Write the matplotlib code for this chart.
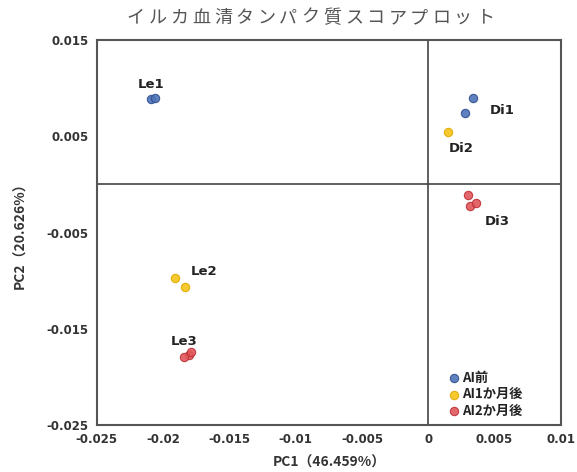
import matplotlib
matplotlib.use("Agg")
import matplotlib.pyplot as plt

plt.rcParams['font.family'] = ['Noto Sans CJK JP', 'DejaVu Sans']

# PCA scores per group
ai0_x = [-0.0209, -0.0206, 0.00336, 0.00276]
ai0_y = [0.0089, 0.0090, 0.0090, 0.00742]
ai1_x = [-0.01912, -0.01836, 0.00148]
ai1_y = [-0.00972, -0.01066, 0.00544]
ai2_x = [-0.01806, -0.0184, -0.0179, 0.00299, 0.00314, 0.00359]
ai2_y = [-0.01772, -0.0179, -0.0174, -0.0011, -0.00224, -0.00193]

group_names = ["AI前", "AI1か月後", "AI2か月後"]
group_colors = ["#4F73B8", "#F5C518", "#E0575B"]
edge_colors = ["#2F4F8F", "#E0A800", "#C03038"]

point_labels = ["Le1", "Di1", "Di2", "Di3", "Le2", "Le3"]
label_x = [-0.0209, 0.0056, 0.0025, 0.0052, -0.0169, -0.0184]
label_y = [0.0104, 0.0077, 0.0037, -0.0039, -0.0091, -0.0163]

x_ticks = [-0.025, -0.02, -0.015, -0.01, -0.005, 0, 0.005, 0.01]
x_tick_labels = ["-0.025", "-0.02", "-0.015", "-0.01", "-0.005", "0", "0.005", "0.01"]
y_ticks = [0.015, 0.005, -0.005, -0.015, -0.025]
y_tick_labels = ["0.015", "0.005", "-0.005", "-0.015", "-0.025"]

title = "イルカ血清タンパク質スコアプロット"

fig = plt.figure(figsize=(5.77, 4.72), dpi=100)
ax = fig.add_axes([0.168, 0.0996, 0.804, 0.8156])

ax.axhline(0, color="#444444", lw=1.2, zorder=1)
ax.axvline(0, color="#444444", lw=1.2, zorder=1)

series = [(ai0_x, ai0_y), (ai1_x, ai1_y), (ai2_x, ai2_y)]
for (xs, ys), name, fc, ec in zip(series, group_names, group_colors, edge_colors):
    ax.scatter(xs, ys, s=36, c=fc, edgecolors=ec, linewidths=0.8,
               label=name, zorder=3, alpha=0.9)

for t, lx, ly in zip(point_labels, label_x, label_y):
    ax.text(lx, ly, t, ha="center", va="center", fontsize=9.5,
            fontweight="bold", color="#222222", family=['DejaVu Sans'])

ax.set_xlim(-0.025, 0.01)
ax.set_ylim(-0.025, 0.015)
ax.set_xticks(x_ticks)
ax.set_xticklabels(x_tick_labels)
ax.set_yticks(y_ticks)
ax.set_yticklabels(y_tick_labels)
ax.tick_params(length=0, labelsize=8.5, labelcolor="#333333", pad=6)
for lab in ax.get_xticklabels() + ax.get_yticklabels():
    lab.set_fontweight("bold")
    lab.set_family(['DejaVu Sans'])

for sp in ax.spines.values():
    sp.set_color("#555555")
    sp.set_linewidth(1.5)

ax.set_xlabel("PC1（46.459%）", fontsize=10, fontweight="bold",
              color="#333333", labelpad=6.5)
ax.set_ylabel("PC2（20.626%）", fontsize=10, fontweight="bold",
              color="#333333", labelpad=14)

# letter-spaced title, one glyph at a time
pitch = 21.8 / 577.0
start = 0.5375 - pitch * (len(title) - 1) / 2
for i, ch in enumerate(title):
    fig.text(start + i * pitch, 0.962, ch, ha="center", va="center",
             fontsize=13, color="#555555")

leg = ax.legend(loc="lower left", bbox_to_anchor=(0.745, 0.005), frameon=False,
                handletextpad=0.1, labelspacing=0.2, borderaxespad=0.0,
                handlelength=1.0,
                prop={'weight': 'bold', 'size': 9.5,
                      'family': ['Noto Sans CJK JP', 'DejaVu Sans']})
for txt in leg.get_texts():
    txt.set_color("#222222")

fig.savefig("out.png", dpi=100)
